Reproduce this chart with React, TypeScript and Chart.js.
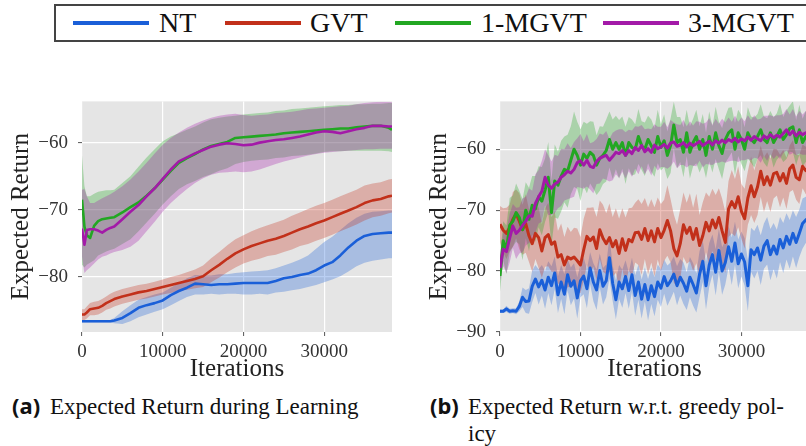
import React, { useEffect, useRef } from 'react';
import { Chart, registerables } from 'chart.js';

Chart.register(...registerables);

// ---------- shared ----------
const SERIES_NAMES = ['NT', 'GVT', '1-MGVT', '3-MGVT'];
const SERIES_COLORS = ['#1a5fd8', '#c2301a', '#22a722', '#a31aa8'];
const BAND_COLORS = ['rgba(26,95,216,0.3)', 'rgba(194,48,26,0.3)', 'rgba(34,167,34,0.3)', 'rgba(163,26,168,0.3)'];
const X_TICKS = [0, 10000, 20000, 30000];
const Y_TICKS_A = [-80, -70, -60];
const Y_TICKS_B = [-90, -80, -70, -60];
const X_TITLE = 'Iterations';
const Y_TITLE = 'Expected Return';
const CAPTION_A = ['Expected Return during Learning'];
const CAPTION_B = ['Expected Return w.r.t. greedy pol-', 'icy'];

// ---------- (a) Expected Return during Learning ----------
const ITER_A = [0, 300, 600, 1000, 1500, 2000, 2500, 3000, 3500, 4000,
  5000, 6000, 7000, 8000, 9000, 10000, 11000, 12000, 13000, 14000,
  15000, 16000, 17000, 18000, 19000, 20000, 21000, 22000, 23000, 24000,
  25000, 26000, 27000, 28000, 29000, 30000, 31000, 32000, 33000, 34000,
  35000, 36000, 37000, 38000, 38400];

const NT_A_MEAN = [-86.6, -86.6, -86.6, -86.6, -86.6, -86.6, -86.6, -86.6, -86.6, -86.5,
  -86.1, -85.4, -84.6, -84.2, -83.9, -83.5, -82.7, -82.1, -81.6, -81.0,
  -81.1, -81.2, -81.1, -81.1, -81.0, -80.9, -80.9, -80.9, -80.9, -80.6,
  -80.2, -80.0, -79.7, -79.5, -79.0, -78.3, -77.8, -76.8, -75.6, -74.6,
  -73.9, -73.6, -73.5, -73.4, -73.4];
const NT_A_LOW = [-86.8, -86.8, -86.8, -86.8, -86.8, -86.8, -86.8, -86.8, -86.8, -86.9,
  -87.0, -86.6, -86.0, -85.6, -85.2, -84.8, -84.2, -83.6, -83.0, -82.6,
  -82.6, -82.5, -82.6, -82.5, -82.5, -82.6, -82.6, -82.5, -82.6, -82.3,
  -82.2, -82.0, -81.8, -81.5, -81.2, -80.8, -80.4, -79.9, -79.2, -78.4,
  -77.9, -77.6, -77.4, -77.2, -77.2];
const NT_A_HIGH = [-86.4, -86.4, -86.4, -86.4, -86.4, -86.4, -86.4, -86.4, -86.4, -86.1,
  -85.1, -84.2, -83.4, -83.0, -82.6, -82.3, -81.6, -80.9, -80.2, -79.7,
  -79.8, -79.8, -79.6, -79.6, -79.4, -79.3, -79.2, -79.1, -79.0, -78.7,
  -78.3, -77.9, -77.4, -76.8, -75.8, -74.8, -74.0, -73.0, -72.0, -71.2,
  -70.6, -70.3, -70.2, -70.1, -70.1];

const GVT_A_MEAN = [-85.6, -85.6, -85.3, -84.8, -84.7, -84.6, -84.3, -83.9, -83.6, -83.3,
  -82.9, -82.6, -82.3, -82.1, -81.8, -81.5, -81.2, -80.9, -80.6, -80.3,
  -79.9, -79.0, -78.2, -77.3, -76.5, -75.9, -75.4, -75.0, -74.6, -74.3,
  -73.9, -73.4, -72.9, -72.5, -72.0, -71.6, -71.1, -70.6, -70.1, -69.6,
  -69.0, -68.6, -68.4, -68.0, -67.9];
const GVT_A_LOW = [-86.4, -86.4, -86.2, -85.7, -85.7, -85.6, -85.3, -84.9, -84.7, -84.4,
  -84.0, -83.7, -83.4, -83.2, -82.9, -82.6, -82.4, -82.1, -81.9, -81.7,
  -81.5, -80.8, -80.1, -79.3, -78.6, -78.0, -77.6, -77.3, -76.9, -76.7,
  -76.3, -75.9, -75.4, -75.1, -74.6, -74.2, -73.7, -73.2, -72.7, -72.2,
  -71.6, -71.1, -70.9, -70.5, -70.4];
const GVT_A_HIGH = [-84.8, -84.8, -84.4, -83.9, -83.7, -83.6, -83.3, -82.9, -82.5, -82.2,
  -81.8, -81.5, -81.2, -81.0, -80.7, -80.4, -80.0, -79.7, -79.3, -78.9,
  -78.3, -77.2, -76.3, -75.3, -74.4, -73.8, -73.2, -72.7, -72.3, -71.9,
  -71.5, -70.9, -70.4, -69.9, -69.4, -69.0, -68.5, -68.0, -67.5, -67.0,
  -66.4, -66.1, -65.9, -65.5, -65.4];

const MG1_A_MEAN = [-68.5, -72.5, -73.8, -74.2, -72.4, -71.7, -71.4, -71.3, -71.2, -71.1,
  -70.4, -69.6, -68.9, -67.9, -66.8, -65.5, -64.2, -63.0, -62.3, -61.7,
  -61.0, -60.5, -60.2, -59.9, -59.3, -59.2, -59.1, -59.0, -58.9, -58.8,
  -58.6, -58.5, -58.4, -58.3, -58.2, -58.1, -58.0, -57.9, -57.9, -57.7,
  -57.6, -57.5, -57.5, -57.8, -58.1];
const MG1_A_LOW = [-78.2, -78.6, -78.2, -77.9, -77.5, -76.8, -76.5, -76.2, -76.0, -75.8,
  -75.1, -74.4, -73.2, -71.9, -70.6, -69.2, -68.0, -66.9, -66.2, -65.7,
  -65.1, -64.7, -64.2, -63.8, -63.2, -62.9, -62.7, -62.6, -62.5, -62.3,
  -62.2, -62.0, -61.9, -61.8, -61.6, -61.4, -61.3, -61.3, -61.2, -61.2,
  -61.2, -61.2, -61.2, -61.3, -61.4];
const MG1_A_HIGH = [-61.9, -66.5, -68.0, -68.0, -67.6, -67.3, -67.2, -67.1, -67.1, -67.0,
  -66.0, -65.0, -63.6, -62.2, -61.0, -59.8, -59.1, -58.6, -58.1, -57.6,
  -57.0, -56.5, -56.3, -56.1, -56.0, -55.8, -55.7, -55.6, -55.5, -55.3,
  -55.2, -55.0, -54.9, -54.8, -54.7, -54.6, -54.5, -54.4, -54.4, -54.3,
  -54.3, -54.2, -54.2, -54.1, -54.1];

const MG3_A_MEAN = [-72.8, -75.2, -73.0, -72.9, -72.9, -73.1, -73.4, -73.0, -72.7, -72.5,
  -71.4, -70.3, -69.3, -68.0, -66.8, -65.4, -64.0, -62.8, -62.2, -61.6,
  -61.1, -60.6, -60.3, -60.1, -60.2, -60.4, -60.3, -60.0, -59.8, -59.6,
  -59.5, -59.3, -59.1, -58.8, -58.5, -58.3, -58.4, -58.6, -58.3, -58.0,
  -57.8, -57.5, -57.5, -57.6, -57.6];
const MG3_A_LOW = [-77.0, -79.4, -79.0, -78.6, -78.0, -77.4, -77.0, -76.8, -76.5, -76.3,
  -76.0, -75.5, -74.6, -73.2, -71.8, -70.3, -69.0, -67.9, -66.9, -66.0,
  -65.3, -64.8, -64.5, -64.4, -64.3, -64.4, -64.3, -64.0, -63.6, -63.2,
  -62.8, -62.5, -62.2, -61.9, -61.7, -61.5, -61.4, -61.3, -61.2, -61.1,
  -61.0, -61.0, -60.9, -60.9, -60.9];
const MG3_A_HIGH = [-67.0, -66.9, -68.0, -69.0, -69.0, -68.6, -68.3, -68.0, -67.7, -67.3,
  -66.5, -65.5, -64.3, -63.0, -61.6, -60.3, -59.3, -58.5, -57.8, -57.2,
  -56.7, -56.3, -56.0, -55.8, -55.7, -55.9, -56.0, -55.9, -55.8, -55.6,
  -55.5, -55.4, -55.2, -55.0, -54.9, -54.8, -54.7, -54.6, -54.5, -54.3,
  -54.1, -54.0, -53.9, -53.9, -54.0];

// ---------- (b) Expected Return w.r.t. greedy policy ----------
const ITER_B = Array.from({ length: 97 }, (_, i) => i * 400);

const NT_B_MEAN = [-86.6, -86.6, -86.2, -86.6, -86.5, -86.6, -85.8, -84.3, -85.0, -84.9,
  -82.5, -81.3, -82.6, -81.5, -83.1, -81.0, -82.4, -80.3, -83.9, -81.8,
  -83.8, -80.6, -82.5, -81.6, -84.4, -81.6, -80.8, -82.9, -79.5, -81.8,
  -83.1, -79.9, -82.5, -81.6, -77.8, -82.0, -84.7, -81.8, -82.9, -80.9,
  -83.2, -80.6, -84.0, -81.8, -84.6, -82.2, -84.7, -82.4, -84.2, -81.8,
  -82.8, -80.9, -82.4, -81.6, -80.5, -82.4, -81.0, -82.0, -83.3, -81.0,
  -82.2, -83.6, -80.5, -78.4, -82.4, -79.0, -77.3, -80.2, -76.6, -80.0,
  -78.6, -76.0, -78.4, -75.4, -78.8, -77.2, -78.5, -82.4, -76.5, -77.3,
  -76.2, -78.2, -75.9, -75.0, -77.3, -75.9, -77.2, -74.8, -76.2, -74.3,
  -75.6, -73.8, -75.3, -73.8, -72.2, -71.6, -71.2];
const NT_B_SPREAD = [0.3, 0.3, 0.5, 0.4, 0.4, 0.5, 0.8, 1.6, 1.9, 2.1,
  2.6, 2.3, 2.9, 2.5, 3.1, 2.6, 3.2, 2.7, 3.0, 2.8,
  3.3, 2.6, 3.1, 2.9, 3.4, 2.7, 3.0, 3.2, 2.6, 3.1,
  3.3, 2.8, 3.0, 2.7, 3.4, 2.9, 3.2, 2.8, 3.1, 2.7,
  3.0, 2.8, 3.3, 2.9, 3.2, 2.8, 3.4, 3.0, 3.2, 2.9,
  3.1, 2.8, 3.3, 3.0, 2.9, 3.2, 3.0, 3.4, 3.1, 3.3,
  3.5, 3.2, 3.8, 3.4, 3.9, 3.6, 3.3, 3.8, 3.5, 3.9,
  3.6, 3.4, 3.9, 3.5, 4.0, 3.7, 3.9, 4.2, 3.6, 3.9,
  3.8, 4.1, 3.7, 3.9, 4.2, 3.8, 4.0, 3.7, 4.1, 3.8,
  4.0, 3.8, 4.2, 3.9, 4.1, 3.8, 4.0];

const GVT_B_MEAN = [-72.3, -73.3, -73.8, -72.9, -71.5, -70.6, -71.8, -73.2, -72.2, -74.2,
  -75.5, -73.8, -74.5, -76.7, -74.5, -74.0, -75.6, -75.2, -77.7, -77.3,
  -79.0, -77.7, -78.0, -77.7, -78.3, -79.0, -76.5, -74.3, -75.0, -74.4,
  -76.3, -73.2, -74.6, -75.5, -74.5, -76.0, -75.0, -77.1, -74.7, -76.6,
  -74.8, -75.2, -73.7, -73.6, -74.8, -73.0, -75.0, -73.4, -75.2, -73.0,
  -74.5, -73.3, -71.7, -73.4, -76.3, -77.5, -75.5, -72.4, -73.8, -72.8,
  -74.8, -73.0, -75.8, -74.2, -72.0, -73.4, -71.6, -72.9, -71.2, -73.4,
  -75.3, -69.8, -68.6, -69.6, -67.8, -70.2, -71.4, -68.0, -66.0, -67.8,
  -66.2, -63.6, -65.8, -64.5, -65.9, -64.0, -63.8, -65.2, -64.0, -65.6,
  -63.2, -62.6, -64.6, -65.0, -62.8, -63.5, -62.8];
const GVT_B_SPREAD = [3.0, 3.6, 4.2, 3.8, 4.5, 4.0, 4.6, 4.1, 4.8, 4.3,
  4.6, 4.2, 5.0, 4.4, 4.8, 5.2, 4.5, 4.9, 4.3, 5.1,
  4.6, 5.0, 4.4, 4.8, 5.3, 4.6, 5.1, 4.7, 5.4, 4.9,
  5.2, 4.8, 5.5, 5.0, 5.6, 4.9, 5.3, 5.7, 5.0, 5.4,
  5.1, 5.6, 4.9, 5.4, 5.8, 5.0, 5.5, 5.2, 5.7, 5.1,
  5.5, 5.0, 5.8, 5.2, 5.6, 5.1, 5.7, 5.3, 5.0, 5.6,
  5.2, 5.7, 5.0, 5.5, 4.9, 5.6, 5.1, 5.4, 4.8, 5.3,
  5.0, 4.6, 5.2, 4.7, 5.0, 4.5, 4.9, 4.4, 4.8, 4.3,
  4.6, 4.2, 4.5, 4.0, 4.4, 4.1, 3.8, 4.3, 3.9, 4.2,
  3.8, 4.1, 3.7, 4.0, 3.6, 3.9, 3.7];

const MG1_B_MEAN = [-80.8, -75.0, -76.5, -72.5, -71.8, -70.4, -71.2, -73.2, -70.0, -71.5,
  -69.2, -69.8, -67.8, -68.5, -66.7, -64.6, -70.4, -65.2, -65.9, -64.4,
  -63.3, -63.6, -61.8, -60.0, -61.0, -62.6, -60.8, -61.5, -60.5, -61.0,
  -62.6, -61.5, -61.0, -60.2, -58.4, -60.0, -58.9, -60.0, -58.9, -61.0,
  -58.9, -59.7, -60.0, -57.9, -59.4, -60.0, -58.4, -59.4, -60.5, -57.9,
  -59.7, -58.6, -61.0, -59.4, -56.0, -58.9, -58.4, -60.5, -57.3, -60.5,
  -58.9, -57.9, -60.0, -58.4, -61.0, -57.9, -60.0, -57.3, -59.4, -60.7,
  -58.4, -57.3, -56.8, -60.0, -57.3, -58.4, -60.0, -57.3, -58.4, -58.9,
  -57.9, -56.8, -58.4, -58.9, -57.3, -58.9, -57.9, -56.8, -58.4, -57.6,
  -56.6, -56.3, -58.9, -56.8, -58.9, -57.9, -58.0];
const MG1_B_SPREAD = [2.5, 3.2, 4.0, 4.5, 4.2, 4.8, 4.4, 5.0, 4.6, 5.2,
  4.8, 5.4, 5.0, 5.6, 5.2, 5.8, 5.3, 6.0, 5.5, 5.8,
  5.4, 6.0, 5.6, 6.2, 5.5, 5.9, 5.3, 5.7, 5.1, 5.5,
  4.9, 5.3, 4.7, 5.1, 4.6, 4.9, 4.4, 4.8, 4.3, 4.7,
  4.2, 4.6, 4.1, 4.5, 4.0, 4.4, 3.9, 4.3, 4.0, 4.4,
  3.8, 4.3, 3.9, 4.5, 3.8, 4.2, 3.7, 4.1, 3.8, 4.3,
  3.9, 4.4, 3.8, 4.2, 3.7, 4.1, 3.8, 4.3, 3.9, 4.2,
  3.8, 4.1, 3.7, 4.3, 3.8, 4.0, 3.6, 4.2, 3.8, 4.1,
  3.7, 4.2, 3.8, 4.0, 3.6, 4.1, 3.8, 4.3, 3.7, 4.0,
  3.8, 4.2, 3.7, 4.1, 3.9, 4.2, 3.8];

const MG3_B_MEAN = [-79.5, -76.4, -76.8, -74.6, -72.6, -73.8, -73.3, -72.5, -71.8, -70.9,
  -71.0, -68.9, -67.8, -66.9, -64.6, -65.9, -66.4, -65.7, -65.4, -64.6,
  -64.2, -63.6, -63.9, -63.3, -62.2, -61.9, -62.6, -61.8, -62.8, -63.0,
  -62.0, -61.5, -61.2, -61.0, -61.8, -61.2, -60.5, -60.7, -60.2, -61.0,
  -60.2, -60.7, -59.7, -60.2, -59.4, -60.4, -59.9, -60.5, -59.3, -59.9,
  -59.6, -59.2, -59.8, -59.0, -58.8, -59.5, -59.3, -58.9, -59.6, -59.0,
  -59.4, -59.1, -58.7, -59.4, -59.0, -58.7, -59.3, -58.6, -59.0, -58.5,
  -58.9, -58.4, -58.7, -58.2, -58.8, -58.3, -58.6, -58.0, -58.5, -57.9,
  -58.3, -58.6, -57.8, -58.2, -57.6, -58.1, -57.7, -58.0, -57.4, -56.8,
  -57.6, -57.0, -57.8, -57.2, -57.6, -57.3, -57.6];
const MG3_B_SPREAD = [2.0, 2.8, 3.5, 4.0, 3.6, 4.2, 3.8, 4.4, 4.0, 4.5,
  4.2, 4.8, 4.4, 5.0, 4.6, 4.9, 4.4, 4.8, 4.3, 4.7,
  4.2, 4.6, 4.1, 4.5, 4.0, 4.4, 3.9, 4.3, 3.8, 4.2,
  3.7, 4.1, 3.6, 4.0, 3.5, 3.9, 3.6, 4.0, 3.5, 3.8,
  3.4, 3.8, 3.5, 3.9, 3.4, 3.7, 3.3, 3.8, 3.4, 3.6,
  3.3, 3.7, 3.4, 3.8, 3.2, 3.6, 3.3, 3.7, 3.4, 3.6,
  3.3, 3.7, 3.2, 3.6, 3.4, 3.8, 3.3, 3.6, 3.2, 3.5,
  3.3, 3.6, 3.2, 3.7, 3.3, 3.5, 3.2, 3.6, 3.3, 3.5,
  3.2, 3.6, 3.3, 3.7, 3.2, 3.5, 3.3, 3.6, 3.2, 3.4,
  3.3, 3.6, 3.2, 3.5, 3.3, 3.6, 3.4];

// ---------- chart building ----------
const SERIF = "'Liberation Serif', serif";

const fmtTick = (v: number) => (v < 0 ? '\u2212' + Math.abs(v) : String(v));

const plotBg = {
  id: 'plotBg',
  beforeDraw(chart: any) {
    const { ctx, chartArea: a } = chart;
    ctx.save();
    ctx.fillStyle = '#e5e5e5';
    ctx.fillRect(a.left, a.top, a.right - a.left, a.bottom - a.top);
    ctx.restore();
  },
};

function seriesDatasets(k: number, xs: number[], mean: number[], low: number[], high: number[], lw: number) {
  const pts = (ys: number[]) => xs.map((x, i) => ({ x, y: ys[i] }));
  return [
    { label: SERIES_NAMES[k] + ' low', data: pts(low), borderWidth: 0, borderColor: 'rgba(0,0,0,0)', pointRadius: 0, fill: false, order: 100 - k },
    { label: SERIES_NAMES[k] + ' high', data: pts(high), borderWidth: 0, borderColor: 'rgba(0,0,0,0)', backgroundColor: BAND_COLORS[k], pointRadius: 0, fill: '-1', order: 100 - k },
    { label: SERIES_NAMES[k], data: pts(mean), borderWidth: lw, borderColor: SERIES_COLORS[k], pointRadius: 0, fill: false, order: 50 - k, borderJoinStyle: 'round' as const },
  ];
}

function makeConfig(datasets: any[], yMin: number, yMax: number, yTicks: number[], padRight: number): any {
  const tickFont = { family: SERIF, size: 19, style: 'normal', weight: 'normal' };
  const titleFont = { family: SERIF, size: 25, lineHeight: 1, style: 'normal', weight: 'normal' };
  return {
    type: 'line',
    data: { datasets },
    plugins: [plotBg],
    options: {
      responsive: false,
      animation: false,
      devicePixelRatio: 1,
      font: { family: SERIF },
      layout: { padding: { top: 10, right: padRight, left: 0, bottom: 0 } },
      plugins: { legend: { display: false }, tooltip: { enabled: false }, title: { display: false } },
      elements: { line: { tension: 0 }, point: { radius: 0 } },
      scales: {
        x: {
          type: 'linear', min: 0, max: 38400,
          afterBuildTicks: (s: any) => { s.ticks = X_TICKS.map((v) => ({ value: v })); },
          afterFit: (s: any) => { s.height = 50; },
          grid: { color: '#ffffff', lineWidth: 1.2, drawTicks: true, tickLength: 4, tickColor: '#555555', tickWidth: 1 },
          border: { display: false },
          ticks: { padding: 5, color: '#333333', font: tickFont, maxRotation: 0, autoSkip: false, callback: fmtTick },
          title: { display: true, text: X_TITLE, color: '#222222', font: titleFont, padding: { top: 0, bottom: 0 } },
        },
        y: {
          type: 'linear', min: yMin, max: yMax,
          afterBuildTicks: (s: any) => { s.ticks = yTicks.map((v) => ({ value: v })); },
          afterFit: (s: any) => { s.width = 82; },
          grid: { color: '#ffffff', lineWidth: 1.2, drawTicks: true, tickLength: 4, tickColor: '#555555', tickWidth: 1 },
          border: { display: false },
          ticks: { padding: 10, color: '#333333', font: tickFont, autoSkip: false, callback: fmtTick },
          title: { display: true, text: Y_TITLE, color: '#222222', font: titleFont, padding: { top: 9, bottom: 0 } },
        },
      },
    },
  };
}

function buildA() {
  const ds = [
    ...seriesDatasets(0, ITER_A, NT_A_MEAN, NT_A_LOW, NT_A_HIGH, 2.6),
    ...seriesDatasets(1, ITER_A, GVT_A_MEAN, GVT_A_LOW, GVT_A_HIGH, 2.6),
    ...seriesDatasets(2, ITER_A, MG1_A_MEAN, MG1_A_LOW, MG1_A_HIGH, 2.6),
    ...seriesDatasets(3, ITER_A, MG3_A_MEAN, MG3_A_LOW, MG3_A_HIGH, 2.6),
  ];
  return makeConfig(ds, -88.2, -53.86, Y_TICKS_A, 8);
}

function buildB() {
  const lo = (m: number[], s: number[]) => m.map((v, i) => v - s[i]);
  const hi = (m: number[], s: number[]) => m.map((v, i) => v + s[i]);
  const ds = [
    ...seriesDatasets(0, ITER_B, NT_B_MEAN, lo(NT_B_MEAN, NT_B_SPREAD), hi(NT_B_MEAN, NT_B_SPREAD), 3),
    ...seriesDatasets(1, ITER_B, GVT_B_MEAN, lo(GVT_B_MEAN, GVT_B_SPREAD), hi(GVT_B_MEAN, GVT_B_SPREAD), 3),
    ...seriesDatasets(2, ITER_B, MG1_B_MEAN, lo(MG1_B_MEAN, MG1_B_SPREAD), hi(MG1_B_MEAN, MG1_B_SPREAD), 3),
    ...seriesDatasets(3, ITER_B, MG3_B_MEAN, lo(MG3_B_MEAN, MG3_B_SPREAD), hi(MG3_B_MEAN, MG3_B_SPREAD), 3),
  ];
  return makeConfig(ds, -90, -52.14, Y_TICKS_B, 29);
}

function ChartCanvas({ build, left, top, width, height }: { build: () => any; left: number; top: number; width: number; height: number }) {
  const ref = useRef<HTMLCanvasElement | null>(null);
  useEffect(() => {
    const chart = new Chart(ref.current as HTMLCanvasElement, build());
    return () => chart.destroy();
  }, []);
  return (
    <canvas
      ref={ref}
      width={width}
      height={height}
      style={{ position: 'absolute', left, top, width, height, display: 'block' }}
    />
  );
}

const LEGEND_POS = [[73, 159], [225, 310], [395, 481], [603, 688]];

function Caption({ tag, lines, left }: { tag: string; lines: string[]; left: number }) {
  return (
    <div style={{ position: 'absolute', left, top: 390, display: 'flex', alignItems: 'baseline', whiteSpace: 'nowrap' }}>
      <span style={{ fontFamily: "'Noto Sans', sans-serif", fontWeight: 700, fontSize: 22, width: 38, display: 'inline-block', color: '#111' }}>{tag}</span>
      <div style={{ fontFamily: SERIF, fontSize: 23, lineHeight: '26.5px', color: '#111' }}>
        {lines.map((l, i) => (<div key={i}>{l}</div>))}
      </div>
    </div>
  );
}

export default function App() {
  return (
    <div style={{ position: 'absolute', left: 0, top: 0, width: 806, height: 446, overflow: 'hidden', background: '#ffffff' }}>
      <div style={{ position: 'absolute', left: 54, top: 4, width: 800, height: 38, border: '2px solid #444', boxSizing: 'border-box' }} />
      {SERIES_NAMES.map((name, k) => (
        <React.Fragment key={name}>
          <div style={{ position: 'absolute', left: LEGEND_POS[k][0], top: 21, width: 76, height: 4, background: SERIES_COLORS[k] }} />
          <div style={{ position: 'absolute', left: LEGEND_POS[k][1], top: 9, fontFamily: SERIF, fontSize: 28, lineHeight: '28px', color: '#111', whiteSpace: 'nowrap' }}>{name}</div>
        </React.Fragment>
      ))}
      <ChartCanvas build={buildA} left={0} top={80} width={400} height={302} />
      <ChartCanvas build={buildB} left={418} top={80} width={420} height={302} />
      <Caption tag="(a)" lines={CAPTION_A} left={12} />
      <Caption tag="(b)" lines={CAPTION_B} left={430} />
    </div>
  );
}
